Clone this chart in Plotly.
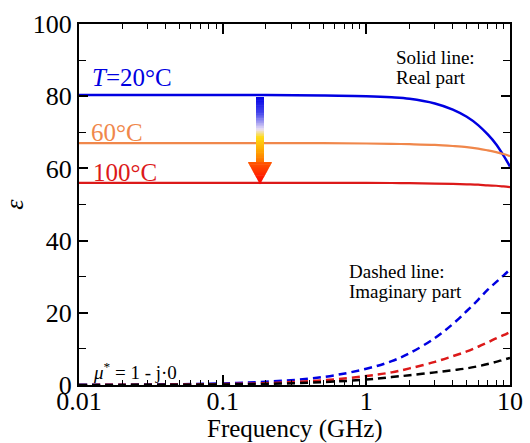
import plotly.graph_objects as go

freq_ghz = [0.01, 0.02, 0.05, 0.1, 0.2, 0.5, 1, 1.5, 2, 3, 4, 5, 6, 7, 8, 9, 10]

real_20c = [80.3, 80.3, 80.3, 80.3, 80.3, 80.2, 80.0, 79.7, 79.3, 78.0, 76.3, 74.3, 72.0, 69.4, 66.7, 63.6, 60.5]
real_60c = [67.0, 67.0, 67.0, 67.0, 67.0, 67.0, 66.9, 66.8, 66.7, 66.5, 66.2, 65.9, 65.5, 65.0, 64.5, 64.0, 63.4]
real_100c = [56.0, 56.0, 56.0, 56.0, 56.0, 56.0, 56.0, 55.95, 55.9, 55.8, 55.7, 55.6, 55.5, 55.3, 55.2, 55.0, 54.8]

imag_blue = [0.04, 0.09, 0.22, 0.45, 0.9, 2.2, 4.5, 6.6, 8.8, 13.0, 16.9, 20.5, 23.6, 26.4, 28.5, 30.3, 32.0]
imag_red = [0.03, 0.05, 0.13, 0.26, 0.5, 1.3, 2.5, 3.5, 4.6, 6.4, 8.0, 9.3, 10.6, 11.8, 12.9, 13.8, 14.7]
imag_black = [0.02, 0.03, 0.08, 0.15, 0.3, 0.8, 1.5, 2.2, 2.7, 3.5, 4.1, 4.6, 5.2, 5.8, 6.4, 7.0, 7.5]

x_tickvals = [0.01, 0.1, 1, 10]
x_ticktext = ["0.01", "0.1", "1", "10"]
y_tickvals = [0, 20, 40, 60, 80, 100]

BLUE = "rgb(0,0,225)"
ORANGE = "rgb(240,135,75)"
RED = "rgb(220,25,25)"
FONT = "Liberation Serif"

fig = go.Figure()
fig.add_trace(go.Scatter(x=freq_ghz, y=real_20c, mode="lines", line=dict(color=BLUE, width=2.5, shape="spline")))
fig.add_trace(go.Scatter(x=freq_ghz, y=real_60c, mode="lines", line=dict(color=ORANGE, width=2.2, shape="spline")))
fig.add_trace(go.Scatter(x=freq_ghz, y=real_100c, mode="lines", line=dict(color=RED, width=2.2, shape="spline")))
fig.add_trace(go.Scatter(x=freq_ghz, y=imag_blue, mode="lines", line=dict(color=BLUE, width=2.5, dash="8px,5px", shape="spline")))
fig.add_trace(go.Scatter(x=freq_ghz, y=imag_red, mode="lines", line=dict(color=RED, width=2.5, dash="8px,5px", shape="spline")))
fig.add_trace(go.Scatter(x=freq_ghz, y=imag_black, mode="lines", line=dict(color="black", width=2.5, dash="8px,5px", shape="spline")))

# plot area in pixels
L, R, T, B = 79, 510, 24, 385
W, H = R - L, B - T


def px(xp):
    return (xp - L) / W


def py(yp):
    return (B - yp) / H


# gradient arrow
shaft_top, shaft_bot, head_bot = 97, 162, 184
cx, shaft_half, head_half = 260, 4, 12
stops = [
    (0.0, (0, 0, 230)),
    (0.25, (70, 70, 235)),
    (0.5, (235, 225, 245)),
    (0.62, (255, 220, 20)),
    (0.85, (255, 160, 0)),
    (1.0, (255, 110, 0)),
]


def grad(t):
    for (t0, c0), (t1, c1) in zip(stops[:-1], stops[1:]):
        if t <= t1:
            f = (t - t0) / (t1 - t0) if t1 > t0 else 0
            return "rgb(%d,%d,%d)" % tuple(round(a + (b - a) * f) for a, b in zip(c0, c1))
    return "rgb(%d,%d,%d)" % stops[-1][1]


n = 40
for i in range(n):
    y0 = shaft_top + (shaft_bot - shaft_top) * i / n
    y1 = shaft_top + (shaft_bot - shaft_top) * (i + 1) / n + 0.6
    c = grad((i + 0.5) / n)
    fig.add_shape(type="rect", xref="paper", yref="paper",
                  x0=px(cx - shaft_half), x1=px(cx + shaft_half), y0=py(y0), y1=py(y1),
                  fillcolor=c, line=dict(width=0), layer="above")
m = 20
for i in range(m):
    ya = shaft_bot + (head_bot - shaft_bot) * i / m
    yb = shaft_bot + (head_bot - shaft_bot) * (i + 1) / m
    wa = head_half * (1 - i / m)
    wb = head_half * (1 - (i + 1) / m)
    t = (i + 0.5) / m
    c = "rgb(255,%d,0)" % round(90 * (1 - t))
    path = "M %f,%f L %f,%f L %f,%f L %f,%f Z" % (
        px(cx - wa), py(ya), px(cx + wa), py(ya), px(cx + wb), py(yb + 0.6), px(cx - wb), py(yb + 0.6))
    fig.add_shape(type="path", xref="paper", yref="paper", path=path,
                  fillcolor=c, line=dict(width=0), layer="above")


def note(text, xp, yp, color="black", size=19, xanchor="left"):
    fig.add_annotation(text=text, xref="paper", yref="paper", x=px(xp), y=py(yp),
                       xanchor=xanchor, yanchor="middle", showarrow=False,
                       font=dict(family=FONT, size=size, color=color))


note("<i>T</i>=20°C", 90, 77, BLUE, 25)
note("60°C", 89, 132, ORANGE, 25)
note("100°C", 91, 172, RED, 25)
note("Solid line:", 394, 57)
note("Real part", 394, 77)
note("Dashed line:", 347, 271)
note("Imaginary part", 347, 291)
note("<i>μ</i><sup>*</sup> = 1 - j·0", 91, 371)
# x-axis title
note("Frequency (GHz)", (L + R) / 2, 429, "black", 25, xanchor="center")

fig.update_layout(
    width=530, height=443,
    margin=dict(l=L, r=530 - R, t=T, b=443 - B, autoexpand=False),
    paper_bgcolor="white", plot_bgcolor="white",
    showlegend=False,
    font=dict(family=FONT, color="black"),
    xaxis=dict(
        type="log", range=[-2, 1], tickvals=x_tickvals, ticktext=x_ticktext,
        ticks="inside", ticklen=10, tickwidth=1.5, tickcolor="black",
        minor=dict(ticks="inside", ticklen=5, tickwidth=1, tickcolor="black", dtick="D1", showgrid=False),
        showline=True, linewidth=2, linecolor="black", mirror="ticks",
        showgrid=False, zeroline=False, automargin=False,
        ticklabelstandoff=-8,
        tickfont=dict(family=FONT, size=26, color="black"),
    ),
    yaxis=dict(
        range=[0, 100], tickvals=y_tickvals,
        ticks="inside", ticklen=9, tickwidth=1.5, tickcolor="black",
        minor=dict(ticks="inside", ticklen=7, tickwidth=1, tickcolor="black", dtick=10, showgrid=False),
        showline=True, linewidth=2, linecolor="black", mirror="ticks",
        showgrid=False, zeroline=False, automargin=False,
        tickfont=dict(family=FONT, size=26, color="black"),
        title=dict(text="<i>ε</i>", font=dict(family=FONT, size=26, color="black"), standoff=4),
    ),
)

fig.write_html("out.html", config={"displayModeBar": False},
               post_script="document.body.style.margin='0';")
